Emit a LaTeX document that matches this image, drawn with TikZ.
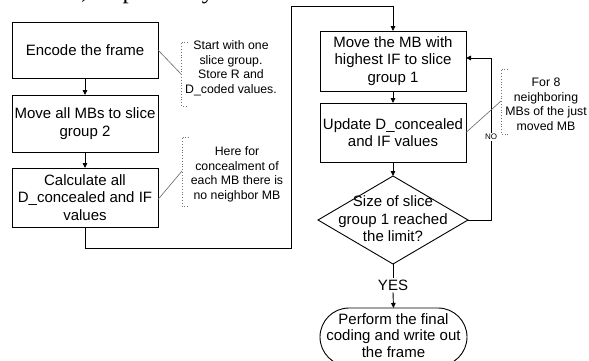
\documentclass[tikz,border=0pt]{standalone}
\usepackage{fontspec}
\setmainfont{Liberation Sans}
\newfontfamily\serifx{Liberation Serif}
\usetikzlibrary{arrows.meta,shapes.geometric}
\begin{document}
\begin{tikzpicture}[x=1pt,y=-1pt,
  every node/.style={inner sep=0pt, outer sep=0pt},
  procbox/.style={draw, line width=0.9pt, minimum width=146pt, align=center,
    font=\fontsize{15}{17.5}\selectfont},
  decbox/.style={draw, diamond, line width=0.9pt, minimum width=150pt, minimum height=88pt},
  termbox/.style={draw, line width=0.9pt, minimum width=147pt, minimum height=58pt,
    rounded corners=29pt, align=center, font=\fontsize{15}{16.5}\selectfont},
  maintext/.style={align=center, font=\fontsize{15}{17.5}\selectfont},
  notetext/.style={align=center, font=\fontsize{12.3}{14.5}\selectfont},
  flow/.style={line width=0.9pt},
  arr/.style={flow, -{Triangle[length=5pt,width=4.5pt]}},
  noteline/.style={draw=black!60, line width=0.6pt},
  brk/.style={draw=black!55, line width=0.8pt, dotted}
]
\useasboundingbox (0,0) rectangle (589,360);
\clip (0,0) rectangle (589,360);
\fill[white] (0,0) rectangle (589,360);

% clipped fragment of a text line above the figure
\node[anchor=base west, font=\serifx\fontsize{25}{25}\selectfont] (frag) at (81,-1.5) {, respectively};

% left column
\node[procbox, minimum height=56pt] (box1) at (85,50) {Encode the frame};
\node[procbox, minimum height=57pt] (box2) at (85,123.5) {Move all MBs to slice\\group 2};
\node[procbox, minimum height=59pt] (box3) at (85,197.5) {Calculate all\\D\_concealed and IF\\values};

% right column
\node[procbox, minimum height=60pt] (box4) at (393,61) {Move the MB with\\highest IF to slice\\group 1};
\node[procbox, minimum height=59pt] (box5) at (393,132.5) {Update D\_concealed\\and IF values};
\node[decbox] (dec) at (393,220) {};
\node[maintext] (dectext) at (393,219) {Size of slice\\group 1 reached\\the limit?};
\node[maintext] (yes) at (393,285) {YES};
\node[termbox] (term) at (393.5,337) {};
\node[align=center, font=\fontsize{15}{16.5}\selectfont] (termtext) at (393.5,335.5) {Perform the final\\coding and write out\\the frame};

% connectors
\coordinate (t1) at (291,248);
\coordinate (t2) at (291,6);
\coordinate (r1) at (491,220);
\draw[arr] (box1.south) -- (box2.north);
\draw[arr] (box2.south) -- (box3.north);
\draw[arr] (box3.south) |- (t1) -- (t2) -| (box4.north);
\draw[arr] (box4.south) -- (box5.north);
\draw[arr] (box5.south) -- (dec.north);
\draw[arr] (dec.east) -- (r1) |- ([yshift=3pt]box4.east);
\node[fill=white, inner sep=1pt, font=\fontsize{8}{9}\selectfont] (no) at (491,137) {NO};
\draw[flow] (dec.south) -- ([yshift=2pt]yes.north);
\draw[arr] ([yshift=-2pt]yes.south) -- (term.north);

% annotations
\node[notetext] (n1) at (231,68.5) {Start with one\\slice group.\\Store R and\\D\_coded values.};
\coordinate (m1) at (181,74);
\draw[brk] (188,42) -- (181,42) -- (181,106) -- (188,106);
\draw[noteline] (box1.east) -- (m1);

\node[notetext] (n2) at (237,174.5) {Here for\\concealment of\\each MB there is\\no neighbor MB};
\coordinate (m2) at (182,171);
\draw[brk] (189,137) -- (182,137) -- (182,206) -- (189,206);
\draw[noteline] ([yshift=-2pt]box3.east) -- (m2);

\node[notetext] (n3) at (546,104.5) {For 8\\neighboring\\MBs of the just\\moved MB};
\coordinate (m3) at (501,101);
\draw[brk] (508,69) -- (501,69) -- (501,134) -- (508,134);
\draw[noteline] (box5.east) -- (m3);
\end{tikzpicture}
\end{document}
